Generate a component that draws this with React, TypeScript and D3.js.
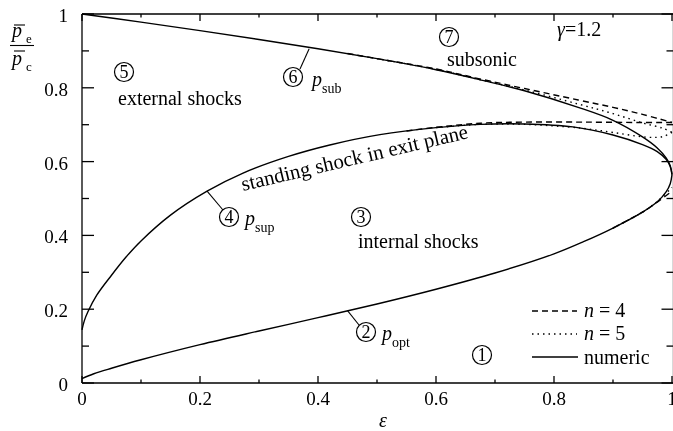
import React from "react";
import * as d3 from "d3";

// ---------- data ----------
const xTicksMajor = [0, 0.2, 0.4, 0.6, 0.8, 1];
const xTickLabels = ["0", "0.2", "0.4", "0.6", "0.8", "1"];
const yTicksMajor = [0, 0.2, 0.4, 0.6, 0.8, 1];
const yTickLabels = ["0", "0.2", "0.4", "0.6", "0.8", "1"];
const minorTicks = [0.1, 0.3, 0.5, 0.7, 0.9];

// numeric (solid)
const epsSub = [0, 0.1, 0.2, 0.3, 0.4, 0.5, 0.6, 0.672, 0.75, 0.841, 0.9, 0.95, 0.975, 0.99, 0.997, 1];
const pSubNum = [1, 0.978, 0.955, 0.931, 0.906, 0.879, 0.849, 0.823, 0.792, 0.747, 0.712, 0.667, 0.637, 0.61, 0.589, 0.5645];

const epsSup = [0, 0.004, 0.01, 0.025, 0.05, 0.075, 0.1, 0.15, 0.212, 0.273, 0.35, 0.42, 0.505, 0.6, 0.675, 0.75, 0.832, 0.9, 0.95, 0.975, 0.99, 0.997, 1];
const pSupNum = [0.144, 0.169, 0.193, 0.238, 0.292, 0.342, 0.385, 0.455, 0.52, 0.569, 0.614, 0.645, 0.673, 0.692, 0.701, 0.702, 0.694, 0.672, 0.646, 0.627, 0.606, 0.587, 0.5645];

const epsOpt = [0, 0.02, 0.05, 0.1, 0.2, 0.3, 0.4, 0.5, 0.6, 0.7, 0.8, 0.85, 0.9, 0.95, 0.975, 0.99, 0.997, 1];
const pOptNum = [0.012, 0.025, 0.04, 0.063, 0.104, 0.141, 0.177, 0.214, 0.254, 0.298, 0.35, 0.383, 0.42, 0.463, 0.491, 0.518, 0.54, 0.5645];

// n = 4 (dashed), diverging part
const epsSubN4 = [0.45, 0.5, 0.6, 0.672, 0.75, 0.841, 0.9, 0.95, 1];
const pSubN4 = [0.893, 0.879, 0.851, 0.825, 0.798, 0.767, 0.747, 0.728, 0.706];
const epsSupN4 = [0.55, 0.6, 0.675, 0.75, 0.85, 0.95, 1];
const pSupN4 = [0.683, 0.693, 0.704, 0.707, 0.707, 0.706, 0.706];
const epsOptN4 = [0.9, 0.95, 0.975, 1];
const pOptN4 = [0.42, 0.463, 0.49, 0.52];

// n = 5 (dotted), diverging part
const epsSubN5 = [0.5, 0.6, 0.672, 0.75, 0.841, 0.9, 0.95, 0.985, 1];
const pSubN5 = [0.879, 0.85, 0.823, 0.794, 0.756, 0.73, 0.705, 0.69, 0.679];
const epsSupN5 = [0.6, 0.675, 0.75, 0.844, 0.9, 0.958, 0.985, 1];
const pSupN5 = [0.692, 0.701, 0.701, 0.691, 0.679, 0.666, 0.668, 0.679];
const epsOptN5 = [0.9, 0.95, 0.975, 1];
const pOptN5 = [0.42, 0.463, 0.492, 0.53];

const W = 673;
const H = 431;
const DASH = "6 4";
const DOT = "1.5 4";

function T(props: any) {
  return <text {...props} style={{ fontFamily: `"Liberation Serif"` }} />;
}

export default function App() {
  const x = d3.scaleLinear().domain([0, 1]).range([82, 672]);
  const y = d3.scaleLinear().domain([0, 1]).range([383, 14]);

  const line = (xs: number[], ys: number[]) =>
    d3
      .line<number>()
      .x((_, i) => x(xs[i]))
      .y((_, i) => y(ys[i]))
      .curve(d3.curveCatmullRom.alpha(0.5))(ys) as string;

  const sw = 1.4;
  const circ = (cx: number, cy: number, n: string) => (
    <g>
      <circle cx={cx} cy={cy} r={9.5} fill="none" stroke="#000" strokeWidth={1.2} />
      <T x={cx} y={cy + 6} textAnchor="middle" fontSize={18}>
        {n}
      </T>
    </g>
  );

  const left = x(0);
  const right = 673.5;
  const top = y(1);
  const bottom = y(0);

  return (
    <svg width={W} height={H} style={{ position: "fixed", left: 0, top: 0 }}>
      <style>{`text, tspan { font-family: "Liberation Serif", "Times New Roman", Tinos !important; }`}</style>
      {/* frame */}
      <g stroke="#000" strokeWidth={1.3} fill="none">
        <line x1={left} y1={top} x2={right} y2={top} />
        <line x1={left} y1={bottom} x2={right} y2={bottom} />
        <line x1={left} y1={top} x2={left} y2={bottom} />
        <line x1={right} y1={top} x2={right} y2={bottom} />
        {xTicksMajor.map((t) => (
          <g key={"xm" + t}>
            <line x1={x(t)} x2={x(t)} y1={bottom} y2={bottom - 7} />
            <line x1={x(t)} x2={x(t)} y1={top} y2={top + 7} />
          </g>
        ))}
        {minorTicks.map((t) => (
          <g key={"xn" + t}>
            <line x1={x(t)} x2={x(t)} y1={bottom} y2={bottom - 3.5} />
            <line x1={x(t)} x2={x(t)} y1={top} y2={top + 3.5} />
          </g>
        ))}
        {yTicksMajor.map((t) => (
          <g key={"ym" + t}>
            <line x1={left} x2={left + 12} y1={y(t)} y2={y(t)} />
            <line x1={right} x2={right - 12} y1={y(t)} y2={y(t)} />
          </g>
        ))}
        {minorTicks.map((t) => (
          <g key={"yn" + t}>
            <line x1={left} x2={left + 7} y1={y(t)} y2={y(t)} />
            <line x1={right} x2={right - 7} y1={y(t)} y2={y(t)} />
          </g>
        ))}
      </g>

      {/* tick labels */}
      <g fill="#000">
        {xTicksMajor.map((t, i) => (
          <T key={"xl" + t} x={x(t)} y={405} textAnchor="middle" fontSize={19}>
            {xTickLabels[i]}
          </T>
        ))}
        {yTicksMajor.map((t, i) => (
          <T key={"yl" + t} x={68} y={y(t) + 8} textAnchor="end" fontSize={19}>
            {yTickLabels[i]}
          </T>
        ))}
      </g>

      {/* axis titles */}
      <T x={383} y={427} fontSize={20} fontStyle="italic" textAnchor="middle">
        ε
      </T>
      <g>
        <line x1={14} x2={25} y1={25} y2={25} stroke="#000" strokeWidth={1.1} />
        <T x={12} y={37} fontSize={20} fontStyle="italic">p</T>
        <T x={26} y={43} fontSize={13}>e</T>
        <line x1={10} x2={34} y1={45.5} y2={45.5} stroke="#000" strokeWidth={1.1} />
        <line x1={14} x2={25} y1={51} y2={51} stroke="#000" strokeWidth={1.1} />
        <T x={12} y={65} fontSize={20} fontStyle="italic">p</T>
        <T x={26} y={71} fontSize={13}>c</T>
      </g>

      {/* curves */}
      <g fill="none" stroke="#000" strokeWidth={sw}>
        <path d={line(epsSub, pSubNum)} />
        <path d={line(epsSup, pSupNum)} />
        <path d={line(epsOpt, pOptNum)} />
        <path d={line(epsSubN4, pSubN4)} strokeDasharray={DASH} />
        <path d={line(epsSupN4, pSupN4)} strokeDasharray={DASH} />
        <path d={line(epsOptN4, pOptN4)} strokeDasharray={DASH} />
        <path d={line(epsSubN5, pSubN5)} strokeDasharray={DOT} />
        <path d={line(epsSupN5, pSupN5)} strokeDasharray={DOT} />
        <path d={line(epsOptN5, pOptN5)} strokeDasharray={DOT} />
      </g>

      {/* leaders */}
      <g stroke="#000" strokeWidth={1.1}>
        <line x1={300} y1={69} x2={x(0.385)} y2={y(0.906)} />
        <line x1={223} y1={210} x2={x(0.212)} y2={y(0.52)} />
        <line x1={359} y1={325} x2={x(0.45)} y2={y(0.196)} />
      </g>

      {/* annotations */}
      <g fill="#000">
        {circ(124, 72, "5")}
        <T x={118} y={105} fontSize={20}>external shocks</T>
        {circ(293, 77, "6")}
        <T x={312} y={86} fontSize={20} fontStyle="italic">p</T>
        <T x={322} y={93} fontSize={14}>sub</T>
        {circ(449, 37, "7")}
        <T x={447} y={66} fontSize={20}>subsonic</T>
        <T x={557} y={36} fontSize={20}>
          <tspan fontStyle="italic">γ</tspan>=1.2
        </T>
        <T transform="translate(243,191) rotate(-13.2)" fontSize={20.8}>standing shock in exit plane</T>
        {circ(229, 217, "4")}
        <T x={245} y={225} fontSize={20} fontStyle="italic">p</T>
        <T x={255} y={232} fontSize={14}>sup</T>
        {circ(361, 217, "3")}
        <T x={358} y={248} fontSize={20}>internal shocks</T>
        {circ(366, 332, "2")}
        <T x={382} y={340} fontSize={20} fontStyle="italic">p</T>
        <T x={392} y={347} fontSize={14}>opt</T>
        {circ(482, 355, "1")}
      </g>

      {/* legend */}
      <g stroke="#000" strokeWidth={1.3}>
        <line x1={532} x2={577} y1={311} y2={311} strokeDasharray={DASH} />
        <line x1={532} x2={577} y1={334} y2={334} strokeDasharray={DOT} />
        <line x1={532} x2={578} y1={357} y2={357} />
      </g>
      <g>
        <T x={584} y={317} fontSize={20}>
          <tspan fontStyle="italic">n</tspan> = 4
        </T>
        <T x={584} y={340} fontSize={20}>
          <tspan fontStyle="italic">n</tspan> = 5
        </T>
        <T x={584} y={364} fontSize={20}>numeric</T>
      </g>
    </svg>
  );
}
